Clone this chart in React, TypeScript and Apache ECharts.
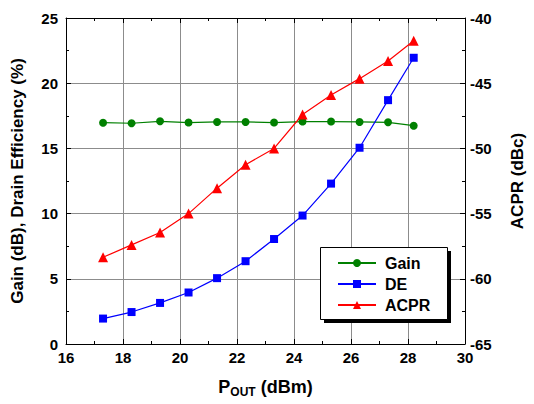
import React, { useEffect, useRef } from "react";
import * as echarts from "echarts";

const pout = [17.3, 18.3, 19.3, 20.3, 21.3, 22.3, 23.3, 24.3, 25.3, 26.3, 27.3, 28.2];
const gain = [16.97, 16.93, 17.08, 16.98, 17.03, 17.03, 16.98, 17.06, 17.06, 17.03, 17.0, 16.74];
const de = [1.95, 2.45, 3.15, 3.95, 5.05, 6.35, 8.05, 9.85, 12.3, 15.05, 18.7, 21.95];
const acpr = [-58.35, -57.4, -56.45, -55.0, -53.05, -51.25, -50.0, -47.4, -45.9, -44.65, -43.3, -41.75];

const FONT = "'Liberation Sans', Arial, sans-serif";

export default function App() {
  const ref = useRef<HTMLDivElement>(null);
  useEffect(() => {
    if (!ref.current) return;
    const chart = echarts.init(ref.current, undefined, { renderer: "svg" });
    const tickStyle = { color: "#000", width: 1 };
    const labelStyle = { color: "#000", fontFamily: FONT, fontWeight: "bold" as const, fontSize: 15 };
    const titleStyle = { fontFamily: FONT, fontWeight: "bold" as const, fontSize: 17, color: "#000" };
    const pair = (ys: number[]) => pout.map((x, i) => [x, ys[i]]);
    chart.setOption({
      animation: false,
      backgroundColor: "#fff",
      textStyle: { fontFamily: FONT },
      grid: { left: 66, right: 62, top: 18, bottom: 60 },
      xAxis: [
        {
          type: "value",
          min: 16,
          max: 30,
          interval: 2,
          position: "bottom",
          name: "{a|P}{b|OUT}{a| (dBm)}",
          nameLocation: "middle",
          nameGap: 31,
          nameTextStyle: {
            rich: {
              a: { fontFamily: FONT, fontWeight: "bold", fontSize: 18, color: "#000" },
              b: { fontFamily: FONT, fontWeight: "bold", fontSize: 12, color: "#000", verticalAlign: "bottom", padding: [11, 0, 0, 0] },
            },
          },
          axisLine: { show: true, lineStyle: { color: "#000", width: 1 } },
          axisTick: { show: true, inside: true, length: 5, lineStyle: tickStyle },
          minorTick: { show: true, splitNumber: 2, length: 3, lineStyle: tickStyle },
          axisLabel: { ...labelStyle, margin: 6 },
          splitLine: { show: true, lineStyle: { color: "#8c8c8c", width: 1 } },
        },
        {
          type: "value",
          min: 16,
          max: 30,
          interval: 2,
          position: "top",
          axisLine: { show: true, lineStyle: { color: "#000", width: 1 } },
          axisTick: { show: true, inside: true, length: 5, lineStyle: tickStyle },
          minorTick: { show: true, splitNumber: 2, length: 3, lineStyle: tickStyle },
          axisLabel: { show: false },
          splitLine: { show: false },
        },
      ],
      yAxis: [
        {
          type: "value",
          min: 0,
          max: 25,
          interval: 5,
          position: "left",
          name: "Gain (dB), Drain Efficiency (%)",
          nameLocation: "middle",
          nameGap: 40,
          nameTextStyle: titleStyle,
          axisLine: { show: true, lineStyle: { color: "#000", width: 1 } },
          axisTick: { show: true, inside: true, length: 5, lineStyle: tickStyle },
          minorTick: { show: true, splitNumber: 2, length: 3, lineStyle: tickStyle },
          axisLabel: { ...labelStyle, margin: 8 },
          splitLine: { show: true, lineStyle: { color: "#8c8c8c", width: 1 } },
        },
        {
          type: "value",
          min: -65,
          max: -40,
          interval: 5,
          position: "right",
          name: "ACPR (dBc)",
          nameLocation: "middle",
          nameGap: 44,
          nameRotate: 90,
          nameTextStyle: titleStyle,
          axisLine: { show: true, lineStyle: { color: "#000", width: 1 } },
          axisTick: { show: true, inside: true, length: 5, lineStyle: tickStyle },
          minorTick: { show: true, splitNumber: 2, length: 3, lineStyle: tickStyle },
          axisLabel: { ...labelStyle, margin: 5 },
          splitLine: { show: false },
        },
      ],
      legend: {
        orient: "vertical",
        left: 337,
        top: 254,
        padding: 0,
        itemWidth: 38,
        itemHeight: 10,
        itemGap: 3,
        z: 10,
        textStyle: { fontFamily: FONT, fontWeight: "bold", fontSize: 16, color: "#000", lineHeight: 18, padding: [0, 0, 0, 4] },
        data: ["Gain", "DE", "ACPR"],
      },
      graphic: [
        { type: "rect", z: 8, shape: { x: 324, y: 251, width: 127, height: 72 }, style: { fill: "#000" } },
        { type: "rect", z: 9, shape: { x: 320.5, y: 247.5, width: 127, height: 72 }, style: { fill: "#fff", stroke: "#000", lineWidth: 1 } },
      ],
      series: [
        {
          name: "Gain",
          type: "line",
          xAxisIndex: 0,
          yAxisIndex: 0,
          data: pair(gain),
          color: "#008000",
          symbol: "circle",
          symbolSize: 8,
          lineStyle: { width: 1.2, color: "#008000" },
          itemStyle: { color: "#008000" },
        },
        {
          name: "DE",
          type: "line",
          xAxisIndex: 0,
          yAxisIndex: 0,
          data: pair(de),
          color: "#0000ff",
          symbol: "rect",
          symbolSize: 8,
          lineStyle: { width: 1.2, color: "#0000ff" },
          itemStyle: { color: "#0000ff" },
        },
        {
          name: "ACPR",
          type: "line",
          xAxisIndex: 0,
          yAxisIndex: 1,
          data: pair(acpr),
          color: "#ff0000",
          symbol: "triangle",
          symbolSize: 10,
          lineStyle: { width: 1.2, color: "#ff0000" },
          itemStyle: { color: "#ff0000" },
        },
      ],
    });
    return () => chart.dispose();
  }, []);
  return <div ref={ref} style={{ width: 534, height: 404, position: "absolute", left: 0, top: 0 }} />;
}
